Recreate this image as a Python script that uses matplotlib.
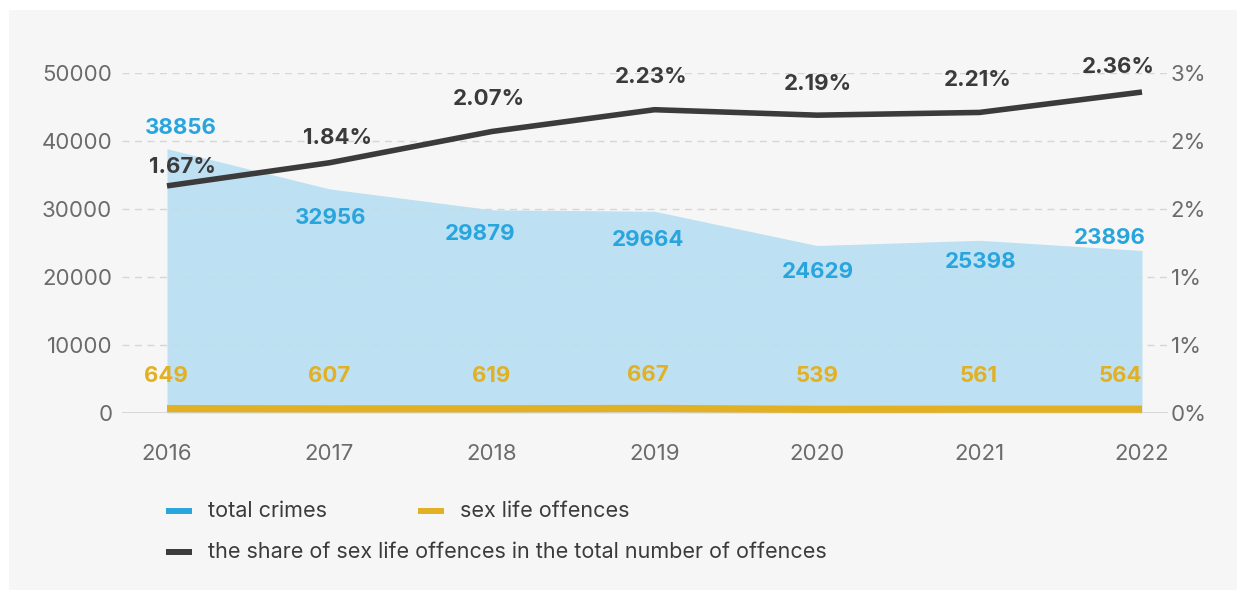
import math
import matplotlib
matplotlib.use("Agg")
import matplotlib.pyplot as plt
from matplotlib.patches import Rectangle
from matplotlib.lines import Line2D
from matplotlib.ticker import FixedLocator, FuncFormatter

plt.rcParams["font.family"] = ["Inter", "DejaVu Sans"]

years = [2016, 2017, 2018, 2019, 2020, 2021, 2022]
total_crimes = [38856, 32956, 29879, 29664, 24629, 25398, 23896]
sex_life_offences = [649, 607, 619, 667, 539, 561, 564]
share_pct = [1.67, 1.84, 2.07, 2.23, 2.19, 2.21, 2.36]

left_ticks = [0, 10000, 20000, 30000, 40000, 50000]
right_ticks = [0, 0.5, 1.0, 1.5, 2.0, 2.5]

BLUE_TXT = "#29a5de"
BLUE_FILL = "#bde0f2"
YELLOW = "#e2b023"
DARK = "#3b3b3b"
TICK_GRAY = "#6b6b6b"
BG = "#f6f6f6"

W, H = 1246, 596
fig = plt.figure(figsize=(W / 100, H / 100), dpi=100, facecolor="white")

# light panel behind everything
fig.patches.append(Rectangle((9 / W, 1 - 590 / H), (1237 - 9) / W, (590 - 10) / H,
                             transform=fig.transFigure, facecolor=BG,
                             edgecolor="none", zorder=-10))

ax = fig.add_axes([122 / W, 1 - 413 / H, (1168 - 122) / W, (413 - 73) / H])
ax.set_facecolor("none")
ax.set_xlim(2016 - 45 / 162.5, 2022 + 26 / 162.5)
ax.set_ylim(0, 50000)

ax.fill_between(years, 0, total_crimes, color=BLUE_FILL, linewidth=0, zorder=1)
ax.plot(years, sex_life_offences, color=YELLOW, lw=5.2, solid_capstyle="butt",
        zorder=4, clip_on=False)

ax.yaxis.set_major_locator(FixedLocator(left_ticks))
ax.yaxis.set_major_formatter(FuncFormatter(lambda v, p: f"{int(v)}"))
ax.set_xticks(years)
ax.set_xticklabels([str(y) for y in years])
ax.tick_params(axis="y", length=0, pad=7, labelsize=16, labelcolor=TICK_GRAY)
ax.tick_params(axis="x", length=0, pad=22, labelsize=16, labelcolor=TICK_GRAY)
for s in ax.spines.values():
    s.set_visible(False)

# horizontal guides drawn over the filled area
for t in left_ticks:
    if t == 0:
        ax.axhline(t, color="#d2d2d2", lw=1.2, zorder=2)
    else:
        ax.axhline(t, color="#d6d6d6", lw=1.0, ls=(0, (5, 4)), zorder=2)

ax2 = ax.twinx()
ax2.set_ylim(0, 2.5)
ax2.plot(years, share_pct, color=DARK, lw=4.0, solid_capstyle="butt", zorder=5)
ax2.yaxis.set_major_locator(FixedLocator(right_ticks))
ax2.yaxis.set_major_formatter(
    FuncFormatter(lambda v, p: f"{int(math.floor(v + 0.5 + 1e-9))}%"))
ax2.tick_params(axis="y", length=0, pad=2, labelsize=16, labelcolor=TICK_GRAY)
for s in ax2.spines.values():
    s.set_visible(False)

PX = 0.72  # pixel -> point at 100 dpi

blue_off = [(14, 21), (1, -29), (-12, -24), (-7, -29), (1, -26), (1, -22), (-32, 13)]
for x, v, (dx, dy) in zip(years, total_crimes, blue_off):
    ax.annotate(f"{v}", (x, v), xytext=(dx * PX, dy * PX), textcoords="offset points",
                ha="center", va="center", fontsize=16, fontweight="bold",
                color=BLUE_TXT, zorder=6)

yel_off = [(-1, 33), (0, 33), (-1, 33), (-7, 33), (0, 33), (-1, 33), (-22, 33)]
for x, v, (dx, dy) in zip(years, sex_life_offences, yel_off):
    ax.annotate(f"{v}", (x, v), xytext=(dx * PX, dy * PX), textcoords="offset points",
                ha="center", va="center", fontsize=16, fontweight="bold",
                color=YELLOW, zorder=6)

dark_off = [(15, 19), (8, 25), (-3, 32), (-3, 33), (1, 31), (-2, 32), (-24, 25)]
for x, v, (dx, dy) in zip(years, share_pct, dark_off):
    ax2.annotate(f"{v:.2f}%", (x, v), xytext=(dx * PX, dy * PX), textcoords="offset points",
                 ha="center", va="center", fontsize=16, fontweight="bold",
                 color=DARK, zorder=6)

# legend built from figure-level handles
legend_items = [
    (166, 511, BLUE_TXT, "total crimes"),
    (418, 511, YELLOW, "sex life offences"),
    (166, 552, DARK, "the share of sex life offences in the total number of offences"),
]
for x0, y0, col, label in legend_items:
    fig.add_artist(Line2D([x0 / W, (x0 + 26) / W], [1 - y0 / H, 1 - y0 / H],
                          transform=fig.transFigure, color=col, lw=4.3,
                          solid_capstyle="butt"))
    fig.text((x0 + 42) / W, 1 - y0 / H, label, ha="left", va="center",
             fontsize=15.5, color=DARK)

fig.savefig("out.png", dpi=100, facecolor="white")
